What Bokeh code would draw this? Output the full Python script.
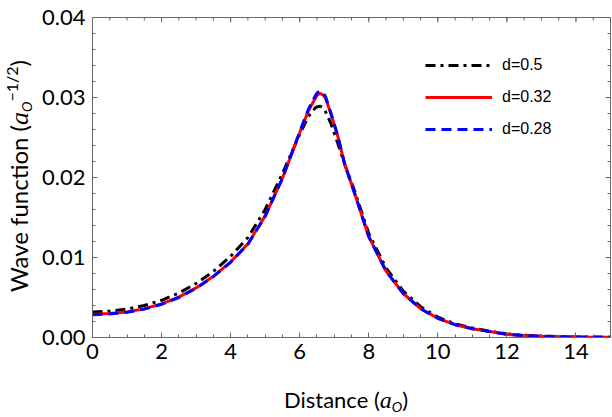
import math
from bokeh.plotting import figure
from bokeh.layouts import row, column
from bokeh.models import (Range1d, FixedTicker, PrintfTickFormatter, LinearAxis,
                          Div, Legend, LegendItem, ColumnDataSource)
from bokeh.embed import file_html
from bokeh.resources import INLINE

# ---- data ----
distance = [0, 0.5, 1, 1.5, 2, 2.5, 3, 3.5, 4, 4.5, 5, 5.5, 6, 6.25, 6.45, 6.52,
            6.6, 6.68, 6.75, 6.9, 7.1, 7.3, 7.6, 8, 8.5, 9, 9.5, 10, 10.5, 11,
            11.5, 12, 12.5, 13, 14, 15]

psi_d050 = [0.00318, 0.00330, 0.00355, 0.00400, 0.00465, 0.00555, 0.00675,
            0.00825, 0.01015, 0.01250, 0.01600, 0.02050, 0.02540, 0.02760,
            0.02870, 0.02885, 0.02890, 0.02870, 0.02820, 0.02680, 0.02430,
            0.02170, 0.01820, 0.01300, 0.00870, 0.00580, 0.00385, 0.00255,
            0.00170, 0.00118, 0.00080, 0.00045, 0.00028, 0.00018, 0.00007,
            0.00003]

psi_d032 = [0.00290, 0.00300, 0.00320, 0.00360, 0.00420, 0.00505, 0.00620,
            0.00765, 0.00945, 0.01170, 0.01520, 0.01990, 0.02560, 0.02830,
            0.02990, 0.03035, 0.03050, 0.03030, 0.02990, 0.02800, 0.02520,
            0.02170, 0.01790, 0.01260, 0.00830, 0.00550, 0.00360, 0.00240,
            0.00160, 0.00110, 0.00075, 0.00040, 0.00025, 0.00016, 0.00006,
            0.00003]

psi_d028 = [0.00285, 0.00295, 0.00315, 0.00355, 0.00415, 0.00500, 0.00615,
            0.00760, 0.00940, 0.01165, 0.01515, 0.01990, 0.02570, 0.02850,
            0.03020, 0.03065, 0.03080, 0.03060, 0.03010, 0.02810, 0.02525,
            0.02170, 0.01790, 0.01260, 0.00830, 0.00550, 0.00360, 0.00240,
            0.00160, 0.00110, 0.00075, 0.00040, 0.00025, 0.00016, 0.00006,
            0.00003]

series_labels = ["d=0.5", "d=0.32", "d=0.28"]

x_ticks = [0, 2, 4, 6, 8, 10, 12, 14]
x_minor = [i * 0.5 for i in range(0, 31)]
y_ticks = [0.0, 0.01, 0.02, 0.03, 0.04]
y_minor = [i * 0.002 for i in range(0, 21)]
x_max = 15
y_max = 0.04

# ---- layout sizes ----
YDIV_W = 34
FIG_W = 612 - YDIV_W
FIG_H = 380
XDIV_H = 417 - FIG_H

# ---- figure ----
p = figure(width=FIG_W, height=FIG_H, output_backend="svg",
           toolbar_location=None,
           x_range=Range1d(0, x_max), y_range=Range1d(0, y_max),
           min_border_left=92 - YDIV_W, min_border_right=2, min_border_top=17,
           min_border_bottom=43, x_axis_type=None, y_axis_type=None,
           margin=(0, 0, 0, 0))
p.grid.visible = False
p.outline_line_color = "#666666"
p.background_fill_color = "white"
p.border_fill_color = "white"

AXC = "#666666"

def style_axis(ax):
    ax.axis_line_color = AXC
    ax.major_tick_line_color = AXC
    ax.minor_tick_line_color = AXC
    ax.major_tick_in = 5
    ax.major_tick_out = 0
    ax.minor_tick_in = 3
    ax.minor_tick_out = 0
    ax.major_label_text_font = "Lato"
    ax.major_label_text_font_size = "22px"
    ax.major_label_text_color = "black"
    ax.major_label_standoff = 7

xt = FixedTicker(ticks=x_ticks, minor_ticks=x_minor)
yt = FixedTicker(ticks=y_ticks, minor_ticks=y_minor)

xb = LinearAxis(ticker=xt)
style_axis(xb)
xb.major_label_standoff = 6
p.add_layout(xb, "below")

yl = LinearAxis(ticker=yt, formatter=PrintfTickFormatter(format="%.2f"))
style_axis(yl)
p.add_layout(yl, "left")

# mirrored inward ticks on the top and right edges (half of each dash is
# clipped away by the frame, leaving an inward tick)
p.scatter(x=x_ticks, y=[y_max] * len(x_ticks), marker="dash", size=10,
          angle=math.pi / 2, line_color=AXC, line_width=1)
p.scatter(x=x_minor, y=[y_max] * len(x_minor), marker="dash", size=6,
          angle=math.pi / 2, line_color=AXC, line_width=1)
p.scatter(x=[x_max] * len(y_ticks), y=y_ticks, marker="dash", size=10,
          line_color=AXC, line_width=1)
p.scatter(x=[x_max] * len(y_minor), y=y_minor, marker="dash", size=6,
          line_color=AXC, line_width=1)

src = ColumnDataSource(dict(x=distance, a=psi_d050, b=psi_d032, c=psi_d028))
r1 = p.line("x", "a", source=src, line_color="black", line_width=3,
            line_dash="10 5 3 5")
r2 = p.line("x", "b", source=src, line_color="#ff0000", line_width=3)
r3 = p.line("x", "c", source=src, line_color="#0000ff", line_width=3,
            line_dash="10 6")

legend = Legend(items=[LegendItem(label=series_labels[0], renderers=[r1]),
                       LegendItem(label=series_labels[1], renderers=[r2]),
                       LegendItem(label=series_labels[2], renderers=[r3])],
                location=(333, 198))
legend.border_line_color = None
legend.background_fill_alpha = 0
legend.padding = 0
legend.margin = 0
legend.spacing = 12
legend.glyph_width = 67
legend.glyph_height = 20
legend.label_height = 20
legend.label_standoff = 10
legend.label_text_font = "Liberation Sans"
legend.label_text_font_size = "16px"
legend.label_text_color = "black"
p.add_layout(legend, "center")

# ---- axis titles (real HTML text with italic / sub / superscripts) ----
A_STYLE = "font-family:'Liberation Serif';font-style:italic;"
SUB = ("font-family:Lato;font-style:italic;font-size:14px;line-height:0;"
       "vertical-align:-4px;")
SUP = "font-family:Lato;font-size:16px;line-height:0;vertical-align:10px;"

y_title = (
    f"<div style='position:relative;width:{YDIV_W}px;height:417px;'>"
    "<div style=\"position:absolute;left:18.7px;top:175.5px;"
    "transform:translate(-50%,-50%) rotate(-90deg);white-space:nowrap;"
    "font-family:Lato;font-size:24px;line-height:24px;color:black;\">"
    "Wave function ("
    f"<span style=\"{A_STYLE}font-size:26px;\">a</span>"
    f"<span style=\"{SUB}\">O</span>"
    f"<span style=\"{SUP}\">\u22121/2</span>)"
    "</div></div>")

x_title = (
    f"<div style='position:relative;width:{FIG_W}px;height:{XDIV_H}px;'>"
    "<div style=\"position:absolute;left:312px;top:8.5px;"
    "transform:translateX(-50%);white-space:nowrap;"
    "font-family:Lato;font-size:22px;line-height:22px;color:black;\">"
    "Distance ("
    f"<span style=\"{A_STYLE}font-size:24px;\">a</span>"
    f"<span style=\"{SUB}\">O</span>)"
    "</div></div>")

ydiv = Div(text=y_title, width=YDIV_W, height=417, margin=(0, 0, 0, 0))
xdiv = Div(text=x_title, width=FIG_W, height=XDIV_H, margin=(0, 0, 0, 0))

layout = row(ydiv, column(p, xdiv, spacing=0), spacing=0)

open("out.html", "w").write(file_html(layout, INLINE))
